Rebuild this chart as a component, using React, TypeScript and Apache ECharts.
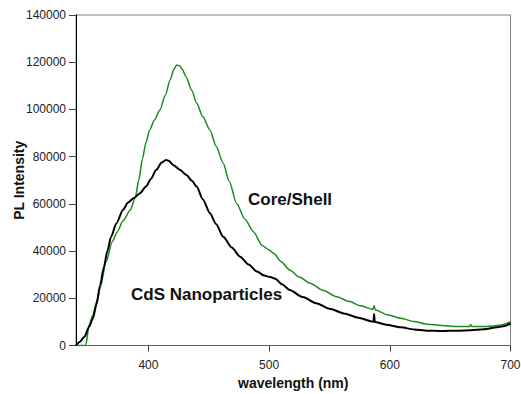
import React, { useEffect, useRef } from "react";
import * as echarts from "echarts";

const xTicks = [400, 500, 600, 700];
const yTicks = [0, 20000, 40000, 60000, 80000, 100000, 120000, 140000];

const cdsNano: [number, number][] = [
  [340, 0], [343, 1500], [347, 3700], [351, 8000], [354, 11500], [357, 17500],
  [360, 25500], [363, 33000], [366, 40000], [369, 46000], [373.5, 51800], [379, 57500],
  [383, 60500], [388, 62500], [393, 64500], [398, 67300], [402, 70500],
  [406.5, 74400], [411, 77500], [414.5, 78600], [417, 78200], [420.5, 76500],
  [426, 74500], [431.5, 72200], [436, 69800], [440, 67300], [445, 62000],
  [451, 56000], [456, 51500], [462, 46100], [469, 41500], [476, 37600],
  [483, 34300], [490, 31300], [496, 29600], [501, 29000], [505, 28300],
  [511, 25800], [517, 23500], [528, 20500], [539, 17900], [550, 15600],
  [562, 13600], [574, 11800], [585, 10200], [586.5, 10100], [587, 13300],
  [587.5, 10000], [597, 8800], [609, 7700], [620, 6800], [631, 6300],
  [643, 6100], [656, 6300], [667, 6500], [678, 6900], [689, 7700],
  [695, 8300], [700, 9400],
];

const coreShell: [number, number][] = [
  [340, 0], [348, 0], [351, 9000], [354, 12800], [357, 18500], [360, 24500],
  [365, 35500], [370, 44000], [374, 48000], [379, 52800], [385, 57400],
  [389, 62500], [392, 70000], [395, 79000], [398, 86000], [401, 91300],
  [405, 95500], [409.5, 99800], [414, 106000], [418, 112500], [421, 117000],
  [423.5, 118800], [426, 118500], [428, 117000], [431, 114000], [436, 108000],
  [440, 102600], [445, 97000], [451, 91300], [456, 84500], [462, 77200],
  [467, 69500], [473, 60200], [480, 53500], [487, 48200], [494, 42500],
  [500, 40500], [504, 39000], [510, 35500], [517, 32000], [525, 29000],
  [534, 26400], [545, 23300], [556, 20700], [566, 18700], [576, 16800],
  [586, 15300], [587, 16800], [588, 15000], [598, 13000], [609, 11500],
  [620, 10200], [631, 9000], [643, 8500], [656, 8000], [666, 8000],
  [667, 8800], [668, 8000], [678, 8000], [686, 8300], [692, 8700],
  [696, 9200], [700, 10100],
];

const seriesNames = ["CdS Nanoparticles", "Core/Shell"];
const FONT = "'Liberation Sans', Arial, sans-serif";

export default function App() {
  const ref = useRef<HTMLDivElement>(null);
  useEffect(() => {
    if (!ref.current) return;
    const chart = echarts.init(ref.current, null, { renderer: "svg" });
    chart.setOption({
      animation: false,
      backgroundColor: "#ffffff",
      grid: {
        left: 76,
        right: 10.5,
        top: 15,
        bottom: 48.5,
        show: true,
        borderColor: "#808080",
        borderWidth: 1,
        containLabel: false,
        outerBoundsMode: "none",
      },
      xAxis: {
        type: "value",
        min: 340,
        max: 700,
        name: "wavelength (nm)",
        nameLocation: "middle",
        nameGap: 30,
        nameMoveOverlap: false,
        nameTextStyle: { fontFamily: FONT, fontWeight: "bold", fontSize: 14, color: "#111" },
        axisLine: { show: true, onZero: false, lineStyle: { color: "#606060", width: 1 } },
        axisTick: {
          show: true,
          length: 6,
          customValues: xTicks,
          lineStyle: { color: "#404040" },
        },
        axisLabel: {
          customValues: xTicks,
          margin: 13,
          fontFamily: FONT,
          fontSize: 12,
          color: "#222",
        },
        splitLine: { show: false },
      },
      yAxis: {
        type: "value",
        min: 0,
        max: 140000,
        interval: 20000,
        name: "PL Intensity",
        nameLocation: "middle",
        nameGap: 50,
        nameMoveOverlap: false,
        nameTextStyle: { fontFamily: FONT, fontWeight: "bold", fontSize: 14, color: "#111" },
        axisLine: { show: true, lineStyle: { color: "#000", width: 1 } },
        axisTick: { show: true, length: 7, lineStyle: { color: "#404040" } },
        axisLabel: {
          margin: 10,
          fontFamily: FONT,
          fontSize: 12,
          color: "#222",
          formatter: (v: number) => String(v),
        },
        splitLine: { show: false },
      },
      series: [
        {
          name: seriesNames[1],
          type: "line",
          data: coreShell,
          showSymbol: false,
          smooth: 0.25,
          smoothMonotone: "x",
          lineStyle: { color: "#1a8a1a", width: 1.5 },
          z: 2,
        },
        {
          name: seriesNames[0],
          type: "line",
          data: cdsNano,
          showSymbol: false,
          smooth: 0.25,
          smoothMonotone: "x",
          lineStyle: { color: "#000000", width: 2 },
          z: 3,
        },
      ],
      graphic: [
        {
          type: "text",
          left: 248,
          top: 191,
          style: {
            text: seriesNames[1],
            font: `bold 17px ${FONT}`,
            fill: "#111",
          },
        },
        {
          type: "text",
          left: 131,
          top: 286,
          style: {
            text: seriesNames[0],
            font: `bold 17px ${FONT}`,
            fill: "#111",
          },
        },
      ],
    });
    return () => chart.dispose();
  }, []);
  return (
    <div
      ref={ref}
      style={{ position: "absolute", left: 0, top: 0, width: 521, height: 394 }}
    />
  );
}
